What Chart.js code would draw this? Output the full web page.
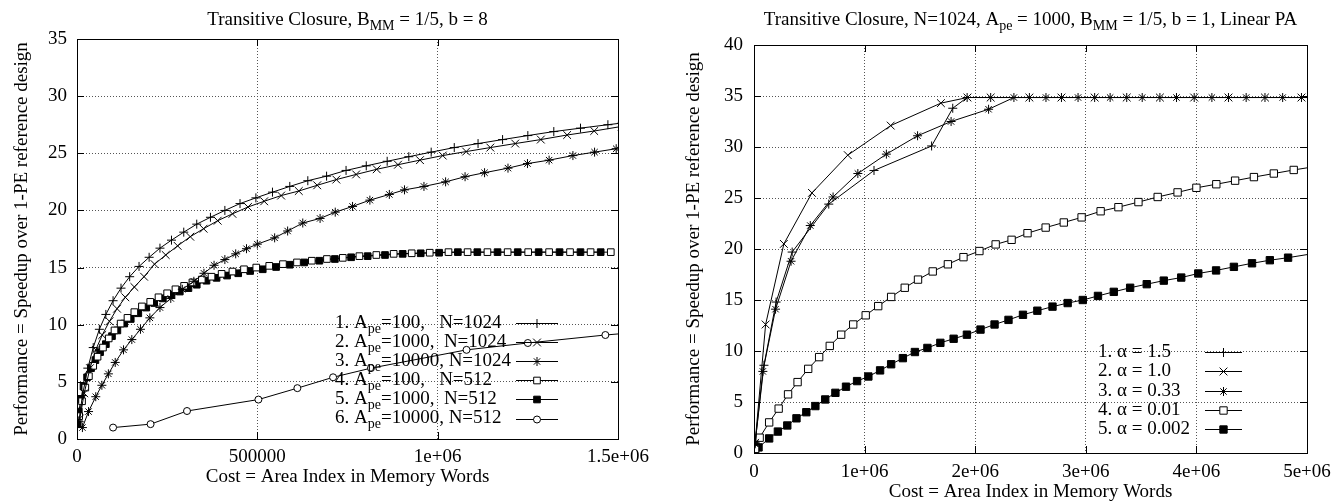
<!DOCTYPE html>
<html lang="en">
<head>
  <meta charset="UTF-8">
  <title>Transitive Closure speedup</title>
  <script src="https://cdn.jsdelivr.net/npm/chart.js@4"></script>
  <style>
    body { margin: 0; background: #fff; }
    .panel { position: absolute; top: 0; }
    #leftPanel { left: 0; }
    #rightPanel { left: 672px; }
  </style>
</head>
<body>
  <div class="panel" id="leftPanel"><canvas id="leftChart" width="672" height="502"></canvas></div>
  <div class="panel" id="rightPanel"><canvas id="rightChart" width="670" height="502"></canvas></div>

  <script>
    // ---------- left chart: B_MM = 1/5, b = 8 ----------
    const leftTitle = ['Transitive Closure, B', 'MM', ' = 1/5, b = 8'];
    const leftXTicks = [0, 500000, 1000000, 1500000];
    const leftXLabels = ['0', '500000', '1e+06', '1.5e+06'];
    const leftLegend = [
      ['1. A', 'pe', '=100,   N=1024'],
      ['2. A', 'pe', '=1000,  N=1024'],
      ['3. A', 'pe', '=10000, N=1024'],
      ['4. A', 'pe', '=100,   N=512'],
      ['5. A', 'pe', '=1000,  N=512'],
      ['6. A', 'pe', '=10000, N=512']
    ];

    const apeA100X = [5000, 15000, 30000, 45000, 62000, 80000, 100000, 122000, 146000, 172000, 200000, 230000, 262000, 296000, 332000, 370000, 410000, 452000, 496000, 542000, 590000, 640000, 692000, 746000, 802000, 860000, 920000, 982000, 1046000, 1112000, 1180000, 1250000, 1322000, 1396000, 1472000, 1550000];
    const apeA100Y = [1.5, 3.8, 6.2, 8.0, 9.6, 10.9, 12.1, 13.2, 14.2, 15.1, 15.9, 16.7, 17.4, 18.1, 18.8, 19.4, 20.0, 20.6, 21.1, 21.6, 22.1, 22.6, 23.0, 23.5, 23.9, 24.3, 24.7, 25.1, 25.5, 25.85, 26.2, 26.55, 26.9, 27.2, 27.5, 27.8];

    const apeA1000X = [8000, 20000, 36000, 52000, 70000, 90000, 111000, 134000, 159000, 186000, 215000, 246000, 279000, 314000, 351000, 390000, 431000, 474000, 519000, 566000, 615000, 666000, 719000, 774000, 831000, 890000, 951000, 1014000, 1079000, 1146000, 1215000, 1286000, 1359000, 1434000, 1510000];
    const apeA1000Y = [1.8, 4.0, 6.2, 7.8, 9.1, 10.3, 11.4, 12.4, 13.3, 14.2, 15.3, 16.1, 16.9, 17.7, 18.4, 19.1, 19.7, 20.3, 20.8, 21.3, 21.7, 22.2, 22.7, 23.15, 23.6, 24.0, 24.4, 24.8, 25.15, 25.5, 25.85, 26.2, 26.6, 26.95, 27.35];

    const apeA10000X = [15000, 32000, 52000, 69000, 87000, 106000, 129000, 152000, 176000, 202000, 230000, 260000, 292000, 324000, 352000, 380000, 410000, 440000, 470000, 500000, 548000, 584000, 626000, 674000, 716000, 764000, 812000, 866000, 908000, 962000, 1022000, 1076000, 1130000, 1195000, 1249000, 1309000, 1375000, 1435000, 1495000];
    const apeA10000Y = [1.0, 2.4, 3.7, 4.7, 5.7, 6.7, 7.8, 8.7, 9.6, 10.6, 11.5, 12.3, 13.1, 13.8, 14.5, 15.2, 15.7, 16.2, 16.65, 17.05, 17.6, 18.2, 18.9, 19.3, 19.85, 20.35, 20.9, 21.4, 21.8, 22.1, 22.5, 22.95, 23.3, 23.7, 24.1, 24.4, 24.8, 25.1, 25.4];

    const apeB100X = [6000, 14000, 23000, 33000, 45000, 57000, 72000, 88000, 104000, 121000, 140000, 159000, 180000, 203000, 226000, 250000, 273000, 297000, 320000, 346000, 373000, 401000, 431000, 463000, 497000, 533000, 571000, 610000, 651000, 693000, 737000, 783000, 830000, 878000, 928000, 978000, 1030000, 1083000, 1138000, 1194000, 1251000, 1309000, 1367000, 1424000, 1480000];
    const apeB100Y = [2.0, 3.3, 4.5, 5.5, 6.4, 7.2, 8.0, 8.8, 9.5, 10.1, 10.6, 11.1, 11.6, 12.0, 12.4, 12.75, 13.1, 13.4, 13.7, 13.95, 14.2, 14.45, 14.65, 14.85, 15.0, 15.15, 15.3, 15.45, 15.6, 15.75, 15.85, 16.0, 16.1, 16.2, 16.25, 16.3, 16.35, 16.35, 16.35, 16.35, 16.35, 16.35, 16.35, 16.35, 16.35];

    const apeB1000X = [2000, 5000, 11000, 18000, 28000, 39000, 51000, 64000, 80000, 97000, 112000, 131000, 149000, 170000, 192000, 214000, 238000, 262000, 285000, 309000, 332000, 359000, 387000, 416000, 447000, 480000, 515000, 552000, 590000, 630000, 672000, 715000, 760000, 806000, 854000, 903000, 953000, 1004000, 1056000, 1110000, 1166000, 1222000, 1280000, 1338000, 1396000, 1452000];
    const apeB1000Y = [1.3, 2.4, 3.5, 4.6, 5.4, 6.2, 6.9, 7.6, 8.3, 9.0, 9.5, 10.1, 10.5, 11.0, 11.5, 11.9, 12.3, 12.6, 12.9, 13.2, 13.5, 13.85, 14.1, 14.3, 14.5, 14.7, 14.85, 15.05, 15.25, 15.45, 15.6, 15.75, 15.9, 16.0, 16.1, 16.2, 16.25, 16.3, 16.35, 16.35, 16.35, 16.35, 16.35, 16.35, 16.35, 16.35];

    const apeB10000X = [100000, 204000, 305000, 503000, 611000, 710000, 815000, 1080000, 1250000, 1465000, 1560000];
    const apeB10000Y = [1.0, 1.3, 2.45, 3.45, 4.45, 5.4, 6.2, 7.8, 8.4, 9.1, 9.35];

    // ---------- right chart: N=1024, A_pe = 1000, linear PA ----------
    const rightTitle = ['Transitive Closure, N=1024, A', 'pe', ' = 1000, B', 'MM', ' = 1/5, b = 1, Linear PA'];
    const rightXTicks = [0, 1000000, 2000000, 3000000, 4000000, 5000000];
    const rightXLabels = ['0', '1e+06', '2e+06', '3e+06', '4e+06', '5e+06'];
    const rightLegend = [
      ['1. \u03b1 = 1.5'],
      ['2. \u03b1 = 1.0'],
      ['3. \u03b1 = 0.33'],
      ['4. \u03b1 = 0.01'],
      ['5. \u03b1 = 0.002']
    ];

    const alpha15X = [10000, 90000, 200000, 345000, 676000, 1085000, 1606000, 1797000, 1927000, 2140000, 2490000, 2780000, 3080000, 3370000, 3670000, 3980000, 4290000, 4620000, 4950000, 5200000];
    const alpha15Y = [1.0, 8.6, 14.8, 19.7, 24.4, 27.7, 30.1, 33.8, 34.85, 34.85, 34.85, 34.85, 34.85, 34.85, 34.85, 34.85, 34.85, 34.85, 34.85, 34.85];

    const alpha10X = [10000, 105000, 270000, 524000, 848000, 1236000, 1690000, 1930000, 2140000, 2490000, 2780000, 3080000, 3370000, 3670000, 3980000, 4290000, 4620000, 4950000, 5200000];
    const alpha10Y = [1.0, 12.6, 20.5, 25.5, 29.2, 32.1, 34.3, 34.85, 34.85, 34.85, 34.85, 34.85, 34.85, 34.85, 34.85, 34.85, 34.85, 34.85, 34.85];

    const alpha033X = [10000, 80000, 195000, 335000, 509000, 715000, 939000, 1197000, 1479000, 1782000, 2121000, 2350000, 2640000, 2930000, 3220000, 3510000, 3820000, 4140000, 4450000, 4780000, 5100000];
    const alpha033Y = [0.9, 8.0, 14.1, 18.8, 22.3, 25.1, 27.4, 29.3, 31.1, 32.5, 33.7, 34.85, 34.85, 34.85, 34.85, 34.85, 34.85, 34.85, 34.85, 34.85, 34.85];

    const alpha001X = [10000, 51000, 137000, 223000, 308000, 394000, 490000, 589000, 685000, 788000, 897000, 1010000, 1123000, 1240000, 1363000, 1483000, 1616000, 1753000, 1894000, 2038000, 2185000, 2329000, 2473000, 2637000, 2801000, 2962000, 3134000, 3295000, 3476000, 3650000, 3830000, 4000000, 4180000, 4350000, 4520000, 4700000, 4880000, 5200000];
    const alpha001Y = [0.4, 1.5, 3.0, 4.35, 5.75, 6.95, 8.25, 9.4, 10.5, 11.6, 12.6, 13.5, 14.4, 15.3, 16.2, 17.0, 17.8, 18.5, 19.2, 19.8, 20.45, 20.9, 21.55, 22.1, 22.6, 23.1, 23.7, 24.1, 24.6, 25.1, 25.55, 26.0, 26.35, 26.7, 27.05, 27.4, 27.75, 28.3];

    const alpha0002X = [10000, 41000, 137000, 216000, 301000, 384000, 473000, 555000, 644000, 736000, 832000, 932000, 1034000, 1140000, 1240000, 1346000, 1455000, 1568000, 1685000, 1805000, 1925000, 2048000, 2175000, 2301000, 2432000, 2562000, 2699000, 2836000, 2973000, 3110000, 3253000, 3401000, 3551000, 3705000, 3863000, 4017000, 4178000, 4339000, 4503000, 4664000, 4829000, 5200000];
    const alpha0002Y = [0.2, 0.55, 1.43, 2.1, 2.7, 3.4, 4.0, 4.6, 5.25, 5.9, 6.5, 7.05, 7.5, 8.1, 8.7, 9.3, 9.9, 10.3, 10.8, 11.2, 11.6, 12.1, 12.6, 13.05, 13.55, 13.95, 14.35, 14.7, 15.0, 15.4, 15.8, 16.2, 16.55, 16.9, 17.2, 17.6, 17.9, 18.25, 18.6, 18.9, 19.15, 19.8];

    const FONT = '"Liberation Serif", "DejaVu Serif", serif';
    Chart.defaults.font.family = FONT;
    Chart.defaults.font.size = 19;
    Chart.defaults.color = '#000';

    // Turn two parallel arrays into {x, y} points
    function pts(xs, ys) {
      return xs.map((x, i) => ({ x: x, y: ys[i] }));
    }

    function series(label, xs, ys, style, radius, fill) {
      return {
        label: label,
        data: pts(xs, ys),
        showLine: true,
        borderColor: '#000',
        borderWidth: 1,
        pointStyle: style,
        pointRadius: radius,
        pointHoverRadius: radius,
        pointBorderWidth: 1,
        pointBorderColor: '#000',
        pointBackgroundColor: fill
      };
    }

    // Draw text where odd parts are subscripts (B_MM, A_pe)
    function richWidth(ctx, parts) {
      let w = 0;
      parts.forEach((p, i) => {
        ctx.font = (i % 2 ? '14px ' : '19px ') + FONT;
        w += ctx.measureText(p).width;
      });
      return w;
    }
    function drawRich(ctx, parts, x, y) {
      ctx.fillStyle = '#000';
      ctx.textAlign = 'left';
      ctx.textBaseline = 'middle';
      parts.forEach((p, i) => {
        ctx.font = (i % 2 ? '14px ' : '19px ') + FONT;
        ctx.fillText(p, x, i % 2 ? y + 6 : y);
        x += ctx.measureText(p).width;
      });
    }

    function drawMarker(ctx, ds, x, y) {
      ctx.fillStyle = ds.pointBackgroundColor;
      ctx.strokeStyle = '#000';
      ctx.lineWidth = 1;
      Chart.helpers.drawPoint(ctx, { pointStyle: ds.pointStyle, radius: ds.pointRadius, rotation: 0, borderWidth: 1 }, x, y);
    }

    // gnuplot look: title, solid frame with inward ticks, key inside the plot
    const gnuplotLook = {
      id: 'gnuplotLook',
      afterDatasetsDraw(chart, args, opts) {
        const ctx = chart.ctx;
        const area = chart.chartArea;
        const xs = chart.scales.x, ys = chart.scales.y;
        ctx.save();
        ctx.strokeStyle = '#000';
        ctx.lineWidth = 1;
        ctx.strokeRect(Math.round(area.left) + 0.5, Math.round(area.top) + 0.5,
          Math.round(area.right - area.left), Math.round(area.bottom - area.top));
        ctx.beginPath();
        xs.ticks.forEach(t => {
          const px = Math.round(xs.getPixelForValue(t.value)) + 0.5;
          ctx.moveTo(px, area.bottom); ctx.lineTo(px, area.bottom - 7);
          ctx.moveTo(px, area.top); ctx.lineTo(px, area.top + 7);
        });
        ys.ticks.forEach(t => {
          const py = Math.round(ys.getPixelForValue(t.value)) + 0.5;
          ctx.moveTo(area.left, py); ctx.lineTo(area.left + 7, py);
          ctx.moveTo(area.right, py); ctx.lineTo(area.right - 7, py);
        });
        ctx.stroke();

        // key
        opts.rows.forEach((row, i) => {
          const y = opts.top + i * opts.step;
          drawRich(ctx, row, opts.textX, y);
          ctx.beginPath();
          ctx.strokeStyle = '#000';
          ctx.moveTo(opts.lineX0, Math.round(y) + 0.5);
          ctx.lineTo(opts.lineX1, Math.round(y) + 0.5);
          ctx.stroke();
          drawMarker(ctx, chart.data.datasets[i], (opts.lineX0 + opts.lineX1) / 2, Math.round(y) + 0.5);
        });

        // title
        const cx = (area.left + area.right) / 2;
        const w = richWidth(ctx, opts.title);
        drawRich(ctx, opts.title, cx - w / 2, opts.titleY);
        ctx.restore();
      }
    };

    function makeOptions(cfg) {
      return {
        responsive: false,
        animation: false,
        layout: { padding: { left: 0, top: cfg.top, right: cfg.right, bottom: 0 } },
        plugins: {
          legend: { display: false },
          tooltip: { enabled: false },
          gnuplotLook: cfg.look
        },
        scales: {
          x: {
            type: 'linear',
            min: 0,
            max: cfg.xMax,
            afterBuildTicks: s => { s.ticks = cfg.xTicks.map(v => ({ value: v })); },
            afterFit: s => { s.height = cfg.xHeight; },
            ticks: {
              autoSkip: false,
              maxRotation: 0,
              padding: cfg.xPad,
              callback: (v, i) => cfg.xLabels[i]
            },
            grid: { drawTicks: false, color: '#555', lineWidth: 1 },
            border: { display: false, dash: [1, 2] },
            title: {
              display: true,
              text: 'Cost = Area Index in Memory Words',
              font: { size: 19, lineHeight: 1.2 },
              padding: { top: 0, bottom: cfg.xTitlePad }
            }
          },
          y: {
            type: 'linear',
            min: 0,
            max: cfg.yMax,
            afterFit: s => { s.width = cfg.yWidth; },
            ticks: { stepSize: 5, padding: cfg.yPad },
            grid: { drawTicks: false, color: '#555', lineWidth: 1 },
            border: { display: false, dash: [1, 2] },
            title: {
              display: true,
              text: 'Performance = Speedup over 1-PE reference design',
              font: { size: 19, lineHeight: 1.2 },
              padding: { top: 10.6, bottom: 0 }
            }
          }
        }
      };
    }

    new Chart(document.getElementById('leftChart'), {
      type: 'scatter',
      data: {
        datasets: [
          series('1', apeA100X, apeA100Y, 'cross', 4.5, '#000'),
          series('2', apeA1000X, apeA1000Y, 'crossRot', 5.5, '#000'),
          series('3', apeA10000X, apeA10000Y, 'star', 4.5, '#000'),
          series('4', apeB100X, apeB100Y, 'rect', 4.7, '#fff'),
          series('5', apeB1000X, apeB1000Y, 'rect', 4.7, '#000'),
          series('6', apeB10000X, apeB10000Y, 'circle', 3.5, '#fff')
        ]
      },
      options: makeOptions({
        top: 39, right: 54, xMax: 1500000, yMax: 35,
        xTicks: leftXTicks, xLabels: leftXLabels,
        xHeight: 63, xPad: 6.6, xTitlePad: 13.6,
        yWidth: 77, yPad: 10,
        look: { title: leftTitle, titleY: 20, rows: leftLegend, top: 323, step: 19.1, textX: 335, lineX0: 516, lineX1: 558 }
      }),
      plugins: [gnuplotLook]
    });

    new Chart(document.getElementById('rightChart'), {
      type: 'scatter',
      data: {
        datasets: [
          series('1', alpha15X, alpha15Y, 'cross', 4.5, '#000'),
          series('2', alpha10X, alpha10Y, 'crossRot', 5.5, '#000'),
          series('3', alpha033X, alpha033Y, 'star', 4.5, '#000'),
          series('4', alpha001X, alpha001Y, 'rect', 5.2, '#fff'),
          series('5', alpha0002X, alpha0002Y, 'rect', 5.2, '#000')
        ]
      },
      options: makeOptions({
        top: 45, right: 35, xMax: 5000000, yMax: 40,
        xTicks: rightXTicks, xLabels: rightXLabels,
        xHeight: 49, xPad: 7.6, xTitlePad: -1.5,
        yWidth: 82, yPad: 11,
        look: { title: rightTitle, titleY: 20, rows: rightLegend, top: 352, step: 19.3, textX: 426, lineX0: 533, lineX1: 570 }
      }),
      plugins: [gnuplotLook]
    });
  </script>
</body>
</html>
